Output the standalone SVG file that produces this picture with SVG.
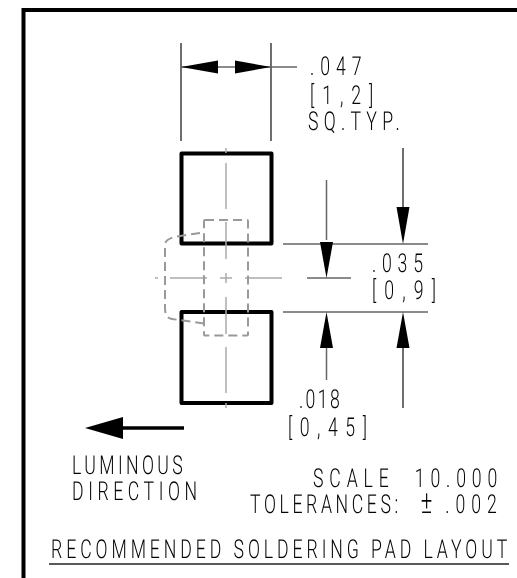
<svg xmlns="http://www.w3.org/2000/svg" width="517" height="578" viewBox="0 0 517 578">
<style>
.t{font-family:"Roboto","Liberation Sans",sans-serif;font-weight:300;font-size:26px;fill:#000;text-rendering:geometricPrecision}
.pad{fill:none;stroke:#000;stroke-width:4;stroke-linejoin:round}
.dim{stroke:#666;stroke-width:1.5;fill:none}
.ext{stroke:#222;stroke-width:1.3;fill:none}
.cl{stroke:#aaa;stroke-width:1.5;fill:none}
.hid{stroke:#999;stroke-width:2;fill:none;stroke-dasharray:9 5}
</style>
<rect width="517" height="578" fill="#fff"/>
<path id="frame" d="M23.500 578V10H517" fill="none" stroke="#000" stroke-width="4"/>
<g id="pads">
<rect id="pad-top" class="pad" x="181.500" y="153.500" width="90" height="90"/>
<rect id="pad-bottom" class="pad" x="181.500" y="312" width="90" height="91"/>
</g>
<g id="package">
<path class="cl" d="M155 278h3M170 278h37M220 278h12M245 278h37M226 148v5M226 163v46M226 222v37M226 273v10M226 297v37M226 347v46M226 403v5"/>
<rect class="hid" x="204" y="220" width="44" height="115.500" rx="1"/>
<path class="hid" d="M200 233L180 236Q165 238 165 245V308Q165 318 172 319L204 323.500"/>
</g>
<g id="connectors">
<path class="ext" d="M181 43V141M271 43V141"/>
<path class="dim" d="M181 67H297M283 244H428M283 312H428M307 278H351"/>
<path class="dim" d="M326.500 180V240M326.500 348V380"/>
<path class="ext" d="M403 148V208M403 348V408"/>
<path d="M181 67L218 60.500V73.500ZM271 67L235 60.500V73.500ZM326.500 278L320 242H333ZM326.500 312L320 348H333ZM403 244L396.500 207H409.500ZM403 312L396.500 348H409.500Z" fill="#000"/>
<path d="M85 428L123 417V439Z" fill="#000"/>
<path d="M120 428H184" stroke="#000" stroke-width="3.500" fill="none"/>
<path class="ext" d="M49 564H509"/>
</g>
<g id="labels" opacity=".99">
<text class="t" transform="translate(310 75) scale(.68 1)" textLength="76" lengthAdjust="spacing">.047</text>
<text class="t" transform="translate(310 104) scale(.68 1)" textLength="93" lengthAdjust="spacing">[1,2]</text>
<text class="t" transform="translate(308 130) scale(.68 1)" textLength="135" lengthAdjust="spacing">SQ.TYP.</text>
<text class="t" transform="translate(372 272) scale(.68 1)" textLength="75" lengthAdjust="spacing">.035</text>
<text class="t" transform="translate(372 299) scale(.68 1)" textLength="94" lengthAdjust="spacing">[0,9]</text>
<text class="t" transform="translate(299 408) scale(.68 1)" textLength="60" lengthAdjust="spacing">.018</text>
<text class="t" transform="translate(288 436) scale(.68 1)" textLength="116" lengthAdjust="spacing">[0,45]</text>
<text class="t" transform="translate(72 474) scale(.68 1)" textLength="163" lengthAdjust="spacing">LUMINOUS</text>
<text class="t" transform="translate(72 500) scale(.68 1)" textLength="184" lengthAdjust="spacing">DIRECTION</text>
<text class="t" transform="translate(313 487) scale(.68 1)" textLength="271" lengthAdjust="spacing" xml:space="preserve">SCALE  10.000</text>
<text class="t" transform="translate(250 513) scale(.68 1)"><tspan textLength="218" lengthAdjust="spacing">TOLERANCES:</tspan><tspan x="251" font-size="32">±</tspan><tspan x="287" textLength="76" lengthAdjust="spacing">.002</tspan></text>
<text class="t" transform="translate(51 558) scale(.68 1)" textLength="671" lengthAdjust="spacing">RECOMMENDED SOLDERING PAD LAYOUT</text>
</g>
</svg>
